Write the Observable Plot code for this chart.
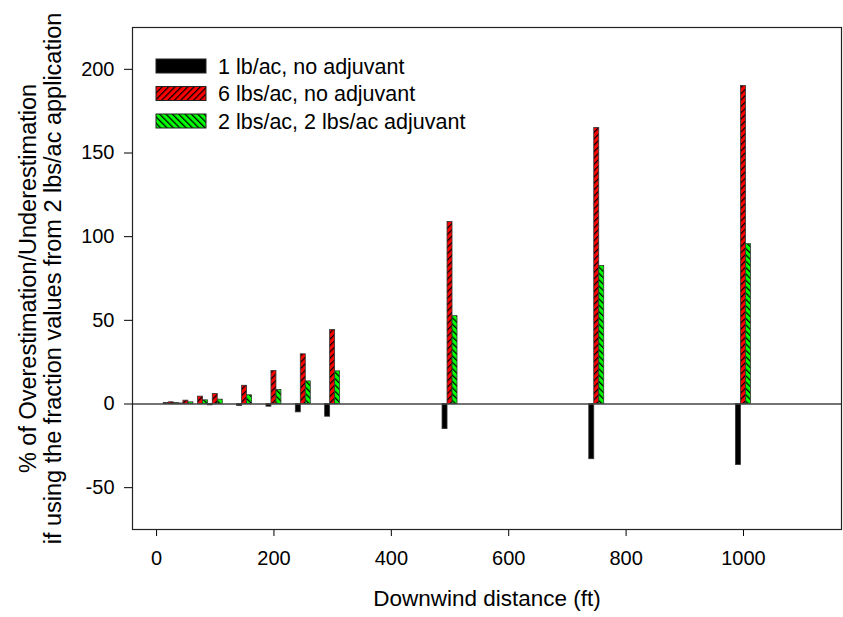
<!DOCTYPE html>
<html><head><meta charset="utf-8">
<script src="https://cdn.jsdelivr.net/npm/d3@7"></script>
<script src="https://cdn.jsdelivr.net/npm/@observablehq/plot@0.6"></script>
<style>
body{margin:0;background:#fff;}
#wrap{position:relative;width:843px;height:617px;font-family:"Liberation Sans",Arial,sans-serif;}
#legend{position:absolute;left:0;top:0;pointer-events:none;}
</style></head><body><div id="wrap"></div>
<script>
// Data
const distances = [25, 50, 75, 100, 150, 200, 250, 300, 500, 750, 1000];
const seriesNames = ["1 lb/ac, no adjuvant", "6 lbs/ac, no adjuvant", "2 lbs/ac, 2 lbs/ac adjuvant"];
const blackValues = [0.6, 0.3, 0.0, -0.8, -1.2, -1.6, -5.0, -7.6, -15.0, -33.0, -36.5];
const redValues   = [1.0, 2.0, 4.4, 6.0, 10.9, 19.7, 29.7, 44.2, 108.8, 165.0, 190.0];
const greenValues = [0.6, 1.0, 2.2, 2.6, 5.2, 8.4, 13.5, 19.5, 52.5, 82.5, 95.5];
const xTicks = [0, 200, 400, 600, 800, 1000];
const yTicks = [-50, 0, 50, 100, 150, 200];
const xLabel = "Downwind distance (ft)";
const yLabel = "% of Overestimation/Underestimation\nif using the fraction values from 2 lbs/ac application";

const barWidth = 8.5; // ft
const font = "'Liberation Sans', Arial, Helvetica, sans-serif";

function rowsFor(vals, offset) {
  return vals.map((v, i) => ({x: distances[i], v, x1: distances[i] + (offset - 0.5) * barWidth, x2: distances[i] + (offset + 0.5) * barWidth}));
}
const blackRows = rowsFor(blackValues, -1);
const redRows = rowsFor(redValues, 0);
const greenRows = rowsFor(greenValues, 1);

const plain = d => String(d);

const plot = Plot.plot({
  width: 843, height: 617,
  marginLeft: 132, marginRight: 2, marginTop: 27, marginBottom: 88,
  style: {fontFamily: font, fontSize: "20px", color: "#000", background: "#fff", overflow: "visible"},
  x: {domain: [-41, 1167], ticks: xTicks, tickFormat: plain, label: null, tickSize: 7, tickPadding: 14},
  y: {domain: [-75, 225], ticks: yTicks, tickFormat: plain, label: null, tickSize: 8, tickPadding: 10},
  marks: [
    Plot.rectY(blackRows, {x1: "x1", x2: "x2", y1: 0, y2: "v", fill: "#000", stroke: "#333", strokeWidth: 0.8}),
    Plot.rectY(redRows, {x1: "x1", x2: "x2", y1: 0, y2: "v", fill: "url(#hatchRed)", stroke: "#333", strokeWidth: 0.8}),
    Plot.rectY(greenRows, {x1: "x1", x2: "x2", y1: 0, y2: "v", fill: "url(#hatchGreen)", stroke: "#333", strokeWidth: 0.8}),
    Plot.ruleY([0], {stroke: "#444", strokeWidth: 1.5}),
    Plot.frame({stroke: "#222", strokeWidth: 1.2}),
    Plot.text([xLabel], {text: d => d, frameAnchor: "bottom", dy: 69, fontSize: 22.5, lineAnchor: "middle", fill: "#000"}),
    Plot.text([yLabel], {text: d => d, frameAnchor: "left", dx: -92, rotate: -90, fontSize: 23.5, lineHeight: 25 / 23.5, textAnchor: "middle", lineAnchor: "middle", fill: "#000"})
  ]
});

const defs = d3.select(plot).insert("defs", ":first-child");
function hatch(id, color, angle) {
  const p = defs.append("pattern").attr("id", id).attr("patternUnits", "userSpaceOnUse")
    .attr("width", 4.5).attr("height", 4.5).attr("patternTransform", `rotate(${angle})`);
  p.append("rect").attr("width", 4.5).attr("height", 4.5).attr("fill", color);
  p.append("line").attr("x1", 0.6).attr("y1", 0).attr("x2", 0.6).attr("y2", 4.5).attr("stroke", "#000").attr("stroke-width", 1.3);
}
hatch("hatchRed", "#ff0000", 45);
hatch("hatchGreen", "#00ff00", -45);

const wrap = document.getElementById("wrap");
wrap.appendChild(plot);

// Legend overlay (inside the plot frame, top-left)
const legendFills = ["#000", "url(#hatchRed)", "url(#hatchGreen)"];
const leg = d3.select(wrap).append("svg").attr("id", "legend").attr("width", 843).attr("height", 617);
seriesNames.forEach((name, i) => {
  const top = 59 + i * 27.5;
  leg.append("rect").attr("x", 156).attr("y", top).attr("width", 50).attr("height", 14)
    .attr("fill", legendFills[i]).attr("stroke", "#222").attr("stroke-width", 1);
  leg.append("text").attr("x", 218).attr("y", top + 14.5).attr("font-family", font)
    .attr("font-size", 21.5).attr("fill", "#000").text(name);
});
</script></body></html>
